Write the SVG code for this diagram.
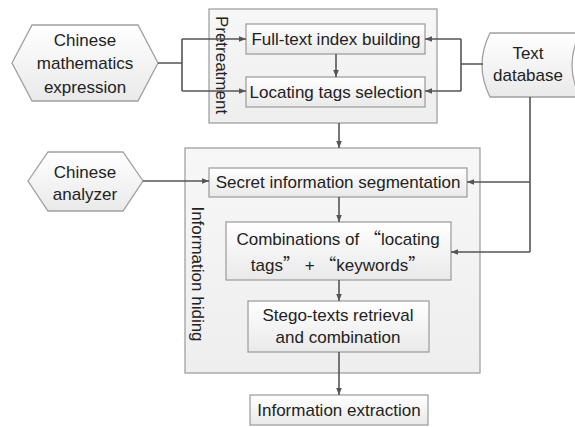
<svg xmlns="http://www.w3.org/2000/svg" width="575" height="427" viewBox="0 0 575 427">
<defs>
<linearGradient id="boxg" x1="0" y1="0" x2="0" y2="1">
<stop offset="0" stop-color="#ffffff"/>
<stop offset="1" stop-color="#e9e9e9"/>
</linearGradient>
<linearGradient id="contg" x1="0" y1="0" x2="0" y2="1">
<stop offset="0" stop-color="#f7f7f7"/>
<stop offset="1" stop-color="#eeeeee"/>
</linearGradient>
<marker id="arr" viewBox="0 0 10 10" refX="10" refY="5" markerWidth="7" markerHeight="7" markerUnits="userSpaceOnUse" orient="auto">
<path d="M0,1 L10,5 L0,9 Z" fill="#555"/>
</marker>
</defs>
<style>
.box{fill:url(#boxg);stroke:#a0a0a0;stroke-width:1.3}
.cont{fill:url(#contg);stroke:#a0a0a0;stroke-width:1.3}
.t{font-family:"Liberation Sans",Arial,sans-serif;font-size:17px;fill:#222;text-anchor:middle}
.c{fill:none;stroke:#555;stroke-width:1.6}
.a{marker-end:url(#arr)}
.q{font-family:"Noto Sans CJK SC","Liberation Sans",sans-serif}
</style>
<rect width="575" height="427" fill="#fff"/>

<g id="pretreatment">
<rect class="cont" x="209" y="9" width="228" height="114"/>
<text class="t" transform="translate(216,65) rotate(90)">Pretreatment</text>
</g>
<g id="infohiding">
<rect class="cont" x="185" y="148" width="295" height="225"/>
<text class="t" transform="translate(192,274) rotate(90)">Information hiding</text>
</g>

<g id="fulltext">
<rect class="box" x="246" y="24" width="179" height="30"/>
<text class="t" x="336" y="45">Full-text index building</text>
</g>
<g id="locating">
<rect class="box" x="246" y="77" width="179" height="30"/>
<text class="t" x="336" y="98">Locating tags selection</text>
</g>
<g id="mathexpr">
<polygon class="box" points="12,63 32,25 138,25 158,63 138,101 32,101"/>
<text class="t" x="85" y="46">Chinese</text>
<text class="t" x="85" y="69">mathematics</text>
<text class="t" x="85" y="93">expression</text>
</g>
<g id="textdb">
<path class="box" d="M490,33 L580,33 Q564,65 580,97 L490,97 Q474,65 490,33 Z"/>
<text class="t" x="528" y="59">Text</text>
<text class="t" x="528" y="81">database</text>
</g>
<g id="analyzer">
<polygon class="box" points="28,181 48,152 123,152 143,181 123,211 48,211"/>
<text class="t" x="85" y="178">Chinese</text>
<text class="t" x="85" y="200">analyzer</text>
</g>
<g id="secret">
<rect class="box" x="209" y="168" width="258" height="29"/>
<text class="t" x="338" y="188">Secret information segmentation</text>
</g>
<g id="combinations">
<rect class="box" x="226" y="222" width="225" height="58"/>
<text class="t" x="338" y="245">Combinations of <tspan class="q">“</tspan>locating</text>
<text class="t" x="338" y="271">tags<tspan class="q">”</tspan> + <tspan class="q">“</tspan>keywords<tspan class="q">”</tspan></text>
</g>
<g id="stego">
<rect class="box" x="248" y="301" width="181" height="51"/>
<text class="t" x="338" y="321">Stego-texts retrieval</text>
<text class="t" x="338" y="343">and combination</text>
</g>
<g id="extraction">
<rect class="box" x="250" y="395" width="178" height="30"/>
<text class="t" x="339" y="416">Information extraction</text>
</g>

<g id="connectors">
<path class="c" d="M158,63 H182 M182,39 V91"/>
<path class="c a" d="M182,39 H246"/>
<path class="c a" d="M182,91 H246"/>
<path class="c" d="M483,64 H461 M461,39 V91"/>
<path class="c a" d="M461,39 H425"/>
<path class="c a" d="M461,91 H425"/>
<path class="c a" d="M336,54 V77"/>
<path class="c a" d="M339,123 V148"/>
<path class="c a" d="M143,181 H209"/>
<path class="c" d="M530,97 V252"/>
<path class="c a" d="M530,182 H467"/>
<path class="c a" d="M530,252 H451"/>
<path class="c a" d="M339,197 V222"/>
<path class="c a" d="M339,280 V301"/>
<path class="c a" d="M339,352 V395"/>
</g>
</svg>
